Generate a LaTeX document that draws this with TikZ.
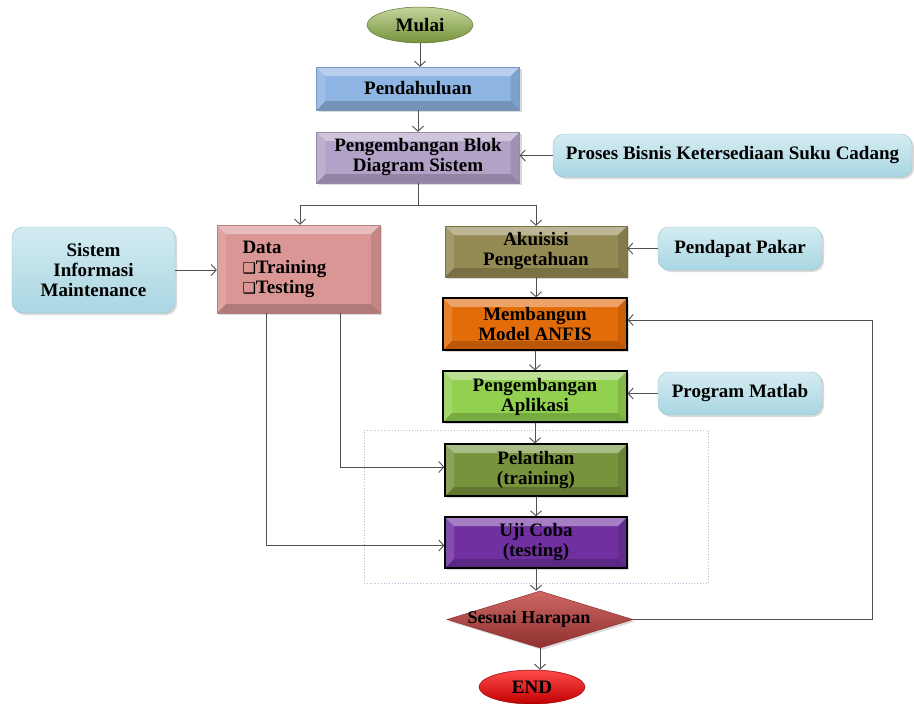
\documentclass[tikz,border=0pt]{standalone}
\usepackage{fontspec}
\setmainfont{Liberation Serif}
\newfontfamily\symfont{DejaVu Sans}
\usetikzlibrary{shapes.geometric,arrows.meta,shadows,calc}

\definecolor{cMulaiTop}{HTML}{C3D69B}
\definecolor{cMulaiBot}{HTML}{76923C}
\definecolor{cPend}{HTML}{8DB4E2}
\definecolor{cBlok}{HTML}{B3A2C7}
\definecolor{cInfoTop}{HTML}{D4ECF2}
\definecolor{cInfoBot}{HTML}{A9D6E2}
\definecolor{cData}{HTML}{D99694}
\definecolor{cAkuisisi}{HTML}{948A54}
\definecolor{cAnfis}{HTML}{E36C0A}
\definecolor{cAplikasi}{HTML}{92D050}
\definecolor{cLatih}{HTML}{77933C}
\definecolor{cUji}{HTML}{7030A0}
\definecolor{cCekTop}{HTML}{CD6764}
\definecolor{cCekBot}{HTML}{8E302E}
\definecolor{cEndTop}{HTML}{FF4A4A}
\definecolor{cEndBot}{HTML}{C00000}
\definecolor{cLine}{HTML}{505050}
\definecolor{cFrame}{HTML}{AFC0D6}

\tikzset{
  txt/.style={font=\fontsize{19}{20}\selectfont\bfseries, text=black, align=center},
  bevel/.style={path picture={
    \fill[white,opacity=.38] (path picture bounding box.north west) -- (path picture bounding box.north east)
      -- ([shift={(-#1,-#1)}]path picture bounding box.north east) -- ([shift={(#1,-#1)}]path picture bounding box.north west) -- cycle;
    \fill[white,opacity=.14] (path picture bounding box.north west) -- ([shift={(#1,-#1)}]path picture bounding box.north west)
      -- ([shift={(#1,#1)}]path picture bounding box.south west) -- (path picture bounding box.south west) -- cycle;
    \fill[black,opacity=.10] (path picture bounding box.north east) -- ([shift={(-#1,-#1)}]path picture bounding box.north east)
      -- ([shift={(-#1,#1)}]path picture bounding box.south east) -- (path picture bounding box.south east) -- cycle;
    \fill[black,opacity=.18] (path picture bounding box.south west) -- (path picture bounding box.south east)
      -- ([shift={(-#1,#1)}]path picture bounding box.south east) -- ([shift={(#1,#1)}]path picture bounding box.south west) -- cycle;
  }},
  softshadow/.style={drop shadow={opacity=.3,shadow xshift=2pt,shadow yshift=-2pt}},
  proc/.style={rectangle, txt, fill=#1, draw=#1!85!black, line width=.4pt, inner sep=0pt, bevel=9pt, softshadow},
  procdark/.style={proc=#1, draw=black, line width=1.3pt},
  infobox/.style={rectangle, rounded corners=11pt, txt, top color=cInfoTop, bottom color=cInfoBot,
    draw=cInfoBot!90!black, line width=.4pt, inner sep=0pt, softshadow},
  terminal/.style={ellipse, txt, inner sep=0pt, minimum width=106pt, minimum height=36pt, line width=.5pt},
  decision/.style={diamond, inner sep=0pt, top color=cCekTop, bottom color=cCekBot, draw=cCekBot, line width=.5pt,
    minimum width=186pt, minimum height=57pt, softshadow},
  conn/.style={draw=cLine, line width=.9pt, -{Straight Barb[length=5pt,width=11pt]}},
  plain/.style={draw=cLine, line width=.9pt},
}

\begin{document}
\begin{tikzpicture}[x=1pt,y=-1pt]
\useasboundingbox (0,0) rectangle (914,704);

% frame around the training and testing stage
\node[draw=cFrame, dotted, line width=.8pt, minimum width=344pt, minimum height=153pt, inner sep=0pt] (frame) at (536,506.5) {};

% terminals
\node[terminal, top color=cMulaiTop, bottom color=cMulaiBot, draw=cMulaiBot!80!black] (mulai) at (420,25) {Mulai};
\node[terminal, top color=cEndTop, bottom color=cEndBot, draw=cEndBot!80!black, minimum height=34pt] (end) at (532,687) {END};

% main process boxes
\node[proc=cPend, minimum width=203pt, minimum height=43pt] (pend) at (418,88.5) {Pendahuluan};
\node[proc=cBlok, minimum width=203pt, minimum height=51pt] (blok) at (418,157.5) {Pengembangan Blok\\Diagram Sistem};
\node[proc=cData, minimum width=163pt, minimum height=88pt, text width=112pt, align=left] (data) at (298.5,269)
  {Data\\{\symfont\fontsize{15}{20}\selectfont ❑}Training\\{\symfont\fontsize{15}{20}\selectfont ❑}Testing};
\node[proc=cAkuisisi, minimum width=182pt, minimum height=51pt] (akuisisi) at (536,251.5) {Akuisisi\\Pengetahuan};
\node[procdark=cAnfis, minimum width=184pt, minimum height=52pt] (anfis) at (535,324) {Membangun\\Model ANFIS};
\node[procdark=cAplikasi, minimum width=184pt, minimum height=51pt] (aplikasi) at (535,396.5) {Pengembangan\\Aplikasi};
\node[procdark=cLatih, minimum width=182pt, minimum height=52pt] (latih) at (536,470) {Pelatihan\\(training)};
\node[procdark=cUji, minimum width=182pt, minimum height=51pt] (uji) at (536,542.5) {Uji Coba\\(testing)};
\node[decision] (cek) at (540,619.5) {};
\node[txt, font=\fontsize{18}{20}\selectfont\bfseries] (cektxt) at ([xshift=-11pt]cek.center) {Sesuai Harapan};

% input boxes
\node[infobox, minimum width=359pt, minimum height=43pt] (proses) at (732.5,155.5) {Proses Bisnis Ketersediaan Suku Cadang};
\node[infobox, minimum width=163pt, minimum height=86pt] (sim) at (93.5,270) {Sistem\\Informasi\\Maintenance};
\node[infobox, minimum width=164pt, minimum height=43pt] (pakar) at (740,248.5) {Pendapat Pakar};
\node[infobox, minimum width=164pt, minimum height=43pt] (matlab) at (740,393.5) {Program Matlab};

% helper points
\coordinate (split) at (418,205);
\coordinate (loopx) at (872,0);
\coordinate (trainx) at (340,0);
\coordinate (testx) at (266,0);

% connectors
\draw[conn] (mulai.south) -- (mulai.south |- pend.north);
\draw[conn] (pend) -- (blok);
\draw[conn] (proses.west) -- (proses.west -| blok.east);
\draw[plain] (blok.south) -- (split);
\draw[conn] (split) -| ([xshift=1.5pt]data.north);
\draw[conn] (split) -| (akuisisi.north);
\draw[conn] (sim.east) -- (sim.east -| data.west);
\draw[conn] (pakar.west) -- (pakar.west -| akuisisi.east);
\draw[conn] (akuisisi.south) -- (akuisisi.south |- anfis.north);
\draw[conn] (anfis.south) -- (anfis.south |- aplikasi.north);
\draw[conn] (matlab.west) -- (matlab.west -| aplikasi.east);
\draw[conn] (aplikasi.south) -- (aplikasi.south |- latih.north);
\draw[conn] (latih) -- (uji);
\draw[conn] (uji.south) -- (uji.south |- cek.north);
\draw[conn] (cek.south) -- (cek.south |- end.north);
\draw[conn] (trainx |- data.south) |- ([yshift=3pt]latih.west);
\draw[conn] (testx |- data.south) |- ([yshift=-3pt]uji.west);
\draw[conn] (cek.east) -- (cek.east -| loopx) |- ([yshift=4pt]anfis.east);
\end{tikzpicture}
\end{document}
